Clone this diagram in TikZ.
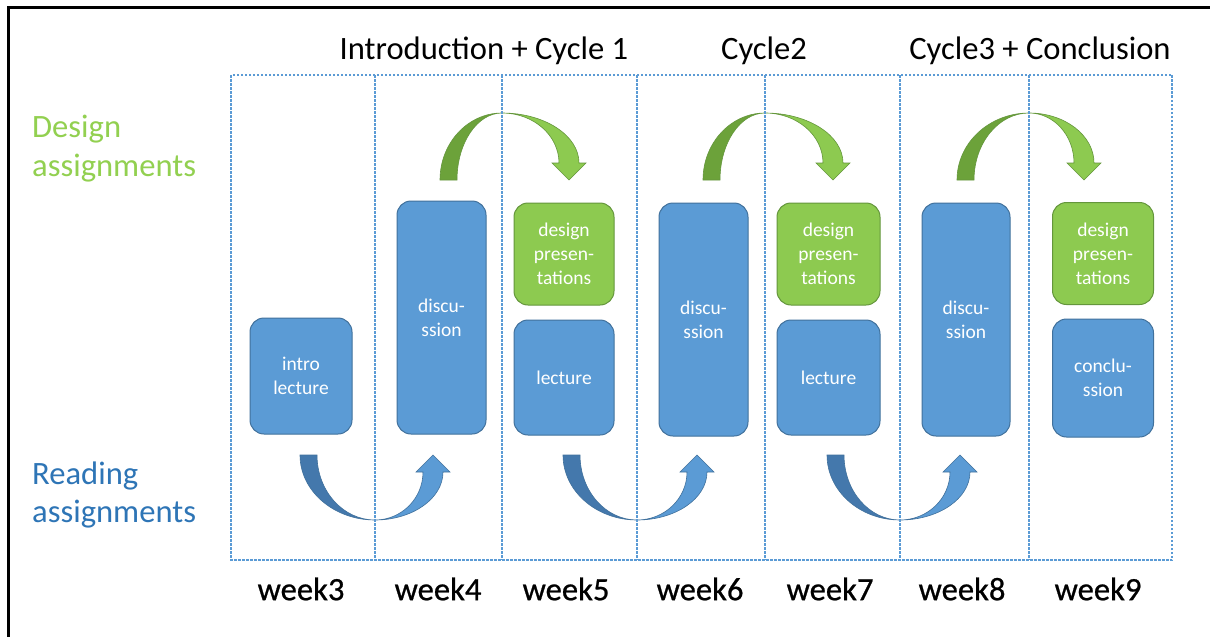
\documentclass[tikz,border=0pt]{standalone}
\usepackage{fontspec}
\setmainfont{Carlito}
\newfontfamily\weekfont[FakeBold=0.7]{Carlito}
\definecolor{bfill}{RGB}{91,155,213}
\definecolor{bline}{RGB}{65,113,156}
\definecolor{gfill}{RGB}{141,202,80}
\definecolor{gline}{RGB}{100,150,60}
\definecolor{gdark}{RGB}{108,162,58}
\definecolor{bdark}{RGB}{68,120,172}
\definecolor{dtext}{RGB}{146,208,80}
\definecolor{rtext}{RGB}{46,117,182}
\definecolor{gridc}{RGB}{91,155,213}
\tikzset{
  bluebox/.style={draw=bline, fill=bfill, line width=1pt, rounded corners=14pt, text=white,
    font=\fontsize{19.5}{24}\selectfont, align=center, inner sep=0pt},
  greenbox/.style={draw=gline, fill=gfill, line width=1pt, rounded corners=14pt, text=white,
    font=\fontsize{19.5}{24}\selectfont, align=center, inner sep=0pt},
  title/.style={font=\fontsize{32.6}{38}\selectfont, inner sep=0pt},
  weeklbl/.style={font=\weekfont\fontsize{32.6}{36}\selectfont, inner sep=0pt},
  sidelbl/.style={font=\fontsize{32.6}{38.5}\selectfont, inner sep=0pt, align=left, anchor=west},
  gridline/.style={draw=gridc, line width=1.1pt, dash pattern=on 2.5pt off 1.5pt},
  garrowd/.style={fill=gdark, draw=gline, line width=0.6pt},
  garrowl/.style={fill=gfill, draw=gline, line width=0.6pt},
  barrowd/.style={fill=bdark, draw=bline, line width=0.6pt},
  barrowl/.style={fill=bfill, draw=bline, line width=0.6pt},
}
\newcommand{\toparw}[3]{%
  \pgfmathsetmacro{\rxo}{#2-#1}%
  \pgfmathsetmacro{\rxi}{#2-#1-17}%
  \pgfmathsetmacro{\ro}{#3+10-#2}%
  \pgfmathsetmacro{\ri}{#3-10-#2}%
  \path[garrowd] (#1,180) .. controls (#1,143) and ({#2-0.552*\rxo},113) .. (#2,113)
     .. controls ({#2-0.552*\rxi},113) and ({#1+17},143) .. ({#1+17},180) -- cycle;
  \path[garrowl] (#2,113) .. controls ({#2+0.552*\ro},113) and ({#3+10},135.4) .. ({#3+10},163)
     -- ({#3+17},163) -- (#3,180) -- ({#3-17},163) -- ({#3-10},163)
     .. controls ({#3-10},135.4) and ({#2+0.552*\ri},113) .. (#2,113) -- cycle;
}
\newcommand{\botarw}[3]{%
  \pgfmathsetmacro{\rxo}{#2-#1}%
  \pgfmathsetmacro{\rxi}{#2-#1-17}%
  \pgfmathsetmacro{\ro}{#3+10-#2}%
  \pgfmathsetmacro{\ri}{#3-10-#2}%
  \path[barrowd] (#1,455) .. controls (#1,490.9) and ({#2-0.552*\rxo},520) .. (#2,520)
     .. controls ({#2-0.552*\rxi},520) and ({#1+17},490.9) .. ({#1+17},455) -- cycle;
  \path[barrowl] (#2,520) .. controls ({#2+0.552*\ro},520) and ({#3+10},498.5) .. ({#3+10},472)
     -- ({#3+17},472) -- (#3,455) -- ({#3-17},472) -- ({#3-10},472)
     .. controls ({#3-10},498.5) and ({#2+0.552*\ri},520) .. (#2,520) -- cycle;
}
\begin{document}
\begin{tikzpicture}[x=1pt,y=-1pt]
\useasboundingbox (0,0) rectangle (1210,637);
\fill[white] (0,0) rectangle (1210,637);
% frame
\draw[line width=3pt] (8,637) -- (8,7) -- (1210,7);

% titles
\node[title] (t1) at (484,50.5) {Introduction + Cycle 1};
\node[title] (t2) at (764,50.5) {Cycle2};
\node[title] (t3) at (1040,50.5) {Cycle3 + Conclusion};

% side labels
\node[sidelbl, text=dtext] (design) at (32,148.5) {Design\\assignments};
\node[sidelbl, text=rtext] (reading) at (32,495) {Reading\\assignments};

% boxes
\node[bluebox, minimum width=102pt, minimum height=116pt] (intro) at (301,376) {intro\\lecture};
\node[bluebox, minimum width=89pt, minimum height=233pt] (disc4) at (441.5,317.5) {discu-\\ssion};
\node[greenbox, minimum width=100pt, minimum height=102pt] (dp5) at (564,254) {design\\presen-\\tations};
\node[bluebox, minimum width=100pt, minimum height=115pt] (lec5) at (564,377.5) {lecture};
\node[bluebox, minimum width=89pt, minimum height=233pt] (disc6) at (703.5,319.5) {discu-\\ssion};
\node[greenbox, minimum width=103pt, minimum height=102pt] (dp7) at (828.5,254) {design\\presen-\\tations};
\node[bluebox, minimum width=103pt, minimum height=115pt] (lec7) at (828.5,377.5) {lecture};
\node[bluebox, minimum width=88pt, minimum height=233pt] (disc8) at (966,319.5) {discu-\\ssion};
\node[greenbox, minimum width=101pt, minimum height=102pt] (dp9) at (1103,253.5) {design\\presen-\\tations};
\node[bluebox, minimum width=101pt, minimum height=118pt] (conc9) at (1103,378) {conclu-\\ssion};

% curved arrows
\toparw{440}{502}{569}
\toparw{703}{765}{833}
\toparw{957}{1029}{1084}
\botarw{300}{375}{433}
\botarw{563}{637}{697}
\botarw{827}{900}{960}

% grid
\draw[gridline] (231,75) rectangle (1172,560);
\foreach \xx in {375,502,637,765,900,1029}
  \draw[gridline] (\xx,75) -- (\xx,560);

% week labels
\node[weeklbl] (w3) at (301,589) {week3};
\node[weeklbl] (w4) at (438,589) {week4};
\node[weeklbl] (w5) at (566,589) {week5};
\node[weeklbl] (w6) at (700,589) {week6};
\node[weeklbl] (w7) at (830,589) {week7};
\node[weeklbl] (w8) at (962,589) {week8};
\node[weeklbl] (w9) at (1098,589) {week9};
\end{tikzpicture}
\end{document}
